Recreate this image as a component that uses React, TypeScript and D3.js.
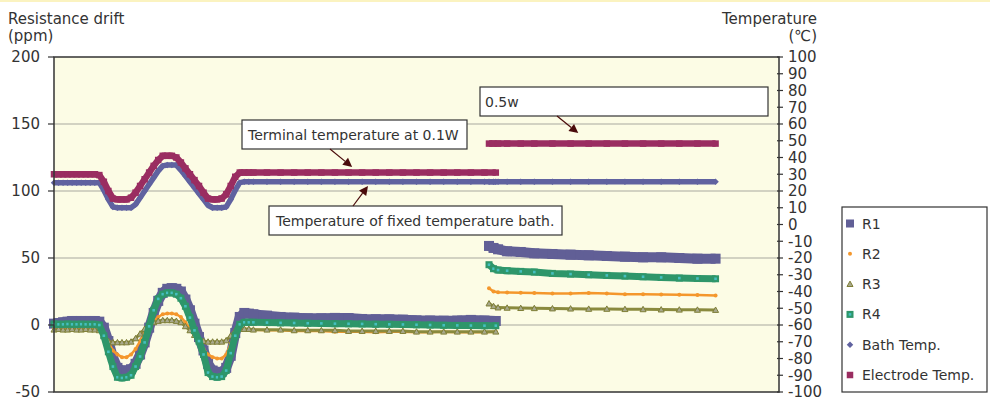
import React from "react";
import * as d3 from "d3";

// ---------- DATA ----------
const phase1Time = [0,1,2,3,4,5,6,7,8,9,10,11,12,13,14,15,16,17,18,19,20,21,22,23,24,25,26,27,28,29,30,31,32,33,34,35,36,37,38,39,40,41,42,43,44,47,50,53,56,59,62,65,68,71,74,77,80,83,86,89,92,95,97.5];
const phase2Time = [96,97,98,100,103,106,110,114,118,122,126,130,134,138,142,146];

const r1Phase1 = [1,1.5,2,2.5,3,3,3,3,3,3,2.5, -2,-12,-24,-32,-34,-34,-33,-29,-22,-13, -2,9,18,24,27,27.5,27,25,19,11, 1,-9,-19,-29,-34,-35,-35,-32,-23,-6, 6,9,8.5,8, 7,6,5.5,5,5,5.3,5.2,4.5,4.3,4.2,4,3.5,3.3,3.2,3.3,3.8,3.3, 3];
const r2Phase1 = [-3,-2.5,-3,-3,-2.5,-3,-3,-3.5,-3,-3,-3.5, -6,-13,-19,-22,-24,-24,-22,-18,-12,-6, -1,3,6,8,8.5,8.5,8,6,2,-3, -8,-13,-18,-22,-24,-25,-25,-22,-14,-6, -3,-3,-3.5,-3.5, -4,-4,-4.5,-4.5,-4.5,-5,-5,-5,-5.5,-5,-5,-5.5,-5.5,-5,-5.5,-5.5,-5.5, -5];
const r3Phase1 = [-3.5,-3,-3.5,-3.5,-3,-3.5,-3.5,-3,-3.5,-3.5,-4, -8,-12,-13,-13,-13,-13,-12.5,-10,-6.5,-3, 0,2,3,3.5,3.5,3.5,3,2,-1,-4, -7.5,-10.5,-12,-12.5,-12.5,-12.5,-12.5,-11.5,-8,-4, -3,-3,-3,-3.5, -3.5,-3.5,-4,-4,-4,-4,-4.5,-4.5,-4.5,-4.5,-4.5,-5,-5,-5,-5,-5,-5, -5];
const r4Phase1 = [0.7,0.5,0.5,0.7,0.5,0.5,0.6,0.5,0.5,0.5,0, -8,-20,-31,-39,-39.5,-39,-37.5,-31,-23.5,-13, -1,11,19.5,23,24,24,23,20,14,5.5, -4,-12,-22,-35.5,-38.5,-39,-38.5,-34,-21,-8, 0.5,2,2,2, 1.8,1.6,1.5,1.3,1.2,1,0.9,0.8,0.6,0.5,0.4,0.2,0,-0.2,-0.3,-0.4,-0.5, -0.5];
const bathPhase1 = [25,25,25,25,25,25,25,25,25,25,25, 20.5,15,10.5,10,10,10,10,12,16,20, 24,28,32,35,35.5,35.5,35.5,32.5,29,25.5, 22,18.5,15,11.5,10,10,10,10.5,15,20.5, 25,25.5,25.5,25.5, 25.5,25.5,25.5,25.5,25.5,25.5,25.5,25.5,25.5,25.5,25.5,25.5,25.5,25.5,25.5,25.5,25.5, 25.5];
const electrodePhase1 = [30,30,30,30,30,30,30,30,30,30,29.5, 25.5,20,15.5,15,15,15,16,19,23,27, 31,35,38.5,41,41,41,40,37,33.5,30, 26.5,23,19,15.5,15,15,15.5,18,23,28.5, 31,31,31,31, 31,31,31,31,31,31,31,31,31,31,31,31,31,31,31,31,31, 31];

const r1Phase2 = [59,57.5,56.5,55,54.5,53.5,53,52.5,52,51.5,51,50.5,50.5,50,49.5,49.5];
const r2Phase2 = [27.5,25,24.5,24.3,24,23.8,23.5,23.5,23.8,23.5,23,23,22.8,22.5,22.3,22];
const r3Phase2 = [16,14,13,12.8,12.6,12.5,12.3,12.2,12,12,11.8,11.7,11.5,11.4,11.3,11.2];
const r4Phase2 = [45,42,41,40.5,40,39.5,38.5,38,37.5,37,36.5,36,35.5,35,34.7,34.5];
const bathPhase2 = [25.5,25.5,25.5,25.5,25.5,25.5,25.5,25.5,25.5,25.5,25.5,25.5,25.5,25.5,25.5,25.5];
const electrodePhase2 = [48.3,48.3,48.3,48.3,48.3,48.3,48.3,48.3,48.3,48.3,48.3,48.3,48.3,48.3,48.3,48.3];

const seriesNames = ["R1", "R2", "R3", "R4", "Bath Temp.", "Electrode Temp."];
const leftTicks = [200, 150, 100, 50, 0, -50];
const rightTicks = [100, 90, 80, 70, 60, 50, 40, 30, 20, 10, 0, -10, -20, -30, -40, -50, -60, -70, -80, -90, -100];
const gridValues = [150, 100, 50, 0];

const annotations = [
  { text: "Terminal temperature at 0.1W", tipTime: 65.8, tipTemp: 34.3 },
  { text: "Temperature of fixed temperature bath.", tipTime: 69.3, tipTemp: 23 },
  { text: "0.5w", tipTime: 115.7, tipTemp: 54.6 },
];

// ---------- LAYOUT ----------
const W = 990, H = 404;
const PL = 54, PR = 779, PT = 57, PB = 392;
const FONT = "'DejaVu Sans', 'Noto Sans CJK JP', sans-serif";
const TXT = "#333";

const x = d3.scaleLinear().domain([0, 160]).range([PL, PR]);
const yL = d3.scaleLinear().domain([-50, 200]).range([PB, PT]);
const yR = d3.scaleLinear().domain([-100, 100]).range([PB, PT]);

type Style = {
  color: string; lw: number; marker: string; size: number;
  fill?: string; stroke?: string; inner?: string; axis: "L" | "R";
};
const styles: Style[] = [
  { color: "#615F96", lw: 10, marker: "square", size: 10, axis: "L" },
  { color: "#F4972C", lw: 2.5, marker: "circle", size: 4, axis: "L" },
  { color: "#8A8A3E", lw: 3, marker: "triangle", size: 6, fill: "#A8A88C", stroke: "#7E7E36", axis: "L" },
  { color: "#2E966A", lw: 7, marker: "square", size: 7, inner: "#45BFC0", axis: "L" },
  { color: "#6062A0", lw: 5.5, marker: "diamond", size: 6.5, axis: "R" },
  { color: "#9A2D61", lw: 6.5, marker: "square", size: 6.5, axis: "R" },
];
const phase1Values = [r1Phase1, r2Phase1, r3Phase1, r4Phase1, bathPhase1, electrodePhase1];
const phase2Values = [r1Phase2, r2Phase2, r3Phase2, r4Phase2, bathPhase2, electrodePhase2];

function Marker({ s, cx, cy, legend }: { s: Style; cx: number; cy: number; legend?: boolean }) {
  const sz = legend ? Math.min(s.size, 8) : s.size;
  const h = sz / 2;
  if (s.marker === "square") {
    return (
      <g>
        <rect x={cx - h} y={cy - h} width={sz} height={sz} fill={s.color} />
        {s.inner && <rect x={cx - 1.3} y={cy - 1.3} width={2.6} height={2.6} fill={s.inner} />}
      </g>
    );
  }
  if (s.marker === "circle") return <circle cx={cx} cy={cy} r={h} fill={s.color} />;
  if (s.marker === "triangle")
    return <path d={`M${cx},${cy - h}L${cx + h},${cy + h * 0.8}L${cx - h},${cy + h * 0.8}Z`} fill={s.fill} stroke={s.stroke} strokeWidth={1} />;
  return <path d={`M${cx},${cy - h}L${cx + h},${cy}L${cx},${cy + h}L${cx - h},${cy}Z`} fill={s.color} />;
}

function Series({ i }: { i: number }) {
  const s = styles[i];
  const y = s.axis === "L" ? yL : yR;
  const parts = [
    phase1Time.map((t, k) => [t, phase1Values[i][k]] as [number, number]),
    phase2Time.map((t, k) => [t, phase2Values[i][k]] as [number, number]),
  ];
  const line = d3.line<[number, number]>().x((d) => x(d[0])).y((d) => y(d[1]));
  return (
    <g>
      {parts.map((pts, pi) => (
        <g key={pi}>
          <path d={line(pts) || ""} fill="none" stroke={s.color} strokeWidth={s.lw} strokeLinejoin="round" />
          {pts.map((d, k) => (
            <Marker key={k} s={s} cx={x(d[0])} cy={y(d[1])} />
          ))}
        </g>
      ))}
    </g>
  );
}

function Arrow({ x1, y1, x2, y2 }: { x1: number; y1: number; x2: number; y2: number }) {
  const ang = Math.atan2(y2 - y1, x2 - x1);
  const L = 9, Wd = 4.5;
  const bx = x2 - L * Math.cos(ang), by = y2 - L * Math.sin(ang);
  const px = -Math.sin(ang) * Wd, py = Math.cos(ang) * Wd;
  return (
    <g>
      <line x1={x1} y1={y1} x2={bx} y2={by} stroke="#4A0B0B" strokeWidth={1.2} />
      <path d={`M${x2},${y2}L${bx + px},${by + py}L${bx - px},${by - py}Z`} fill="#4A0B0B" />
    </g>
  );
}

const boxes = [
  { x: 242, y: 120, w: 225, h: 29, tx: 248, ty: 140, ax: 330, ay: 149 },
  { x: 269, y: 206, w: 293, h: 29, tx: 276, ty: 226, ax: 353, ay: 206 },
  { x: 480, y: 87, w: 288, h: 29, tx: 485, ty: 107, ax: 557, ay: 116 },
];

export default function App() {
  return (
    <div style={{ position: "absolute", left: 0, top: 0 }}>
      <svg width={W} height={H} style={{ display: "block", fontFamily: FONT }}>
        <rect x={0} y={0} width={W} height={H} fill="#fff" />
        <rect x={0} y={0} width={W} height={2} fill="#FBF3C0" />
        <rect x={PL} y={PT} width={PR - PL} height={PB - PT} fill="#FCFCE5" />
        {gridValues.map((g) => (
          <line key={g} x1={PL} x2={PR} y1={yL(g)} y2={yL(g)} stroke="#A8A8A0" strokeWidth={1.2} />
        ))}

        {/* series */}
        {styles.map((_, i) => (
          <Series key={i} i={i} />
        ))}

        {/* plot border / axes */}
        <rect x={PL} y={PT} width={PR - PL} height={PB - PT} fill="none" stroke="#333" strokeWidth={1.5} />

        {/* left axis */}
        {leftTicks.map((t) => (
          <g key={t}>
            <line x1={PL - 6} x2={PL} y1={yL(t)} y2={yL(t)} stroke="#333" strokeWidth={1.2} />
            <text x={40} y={yL(t)} dy="0.36em" textAnchor="end" fontSize={15} fill={TXT}>{t}</text>
          </g>
        ))}
        {/* right axis */}
        {rightTicks.map((t) => (
          <g key={t}>
            <line x1={PR - 2} x2={PR + 4} y1={yR(t)} y2={yR(t)} stroke="#333" strokeWidth={1.2} />
            <text x={788} y={yR(t)} dy="0.36em" textAnchor="start" fontSize={15} fill={TXT}>{t}</text>
          </g>
        ))}

        <text x={8} y={24} fontSize={15} fill={TXT}>Resistance drift</text>
        <text x={8} y={41} fontSize={15} fill={TXT}>(ppm)</text>
        <text x={817} y={24} fontSize={15} fill={TXT} textAnchor="end">Temperature</text>
        <text x={817} y={41} fontSize={15} fill={TXT} textAnchor="end">(℃)</text>

        {/* annotations */}
        {annotations.map((a, i) => {
          const b = boxes[i];
          return (
            <g key={i}>
              <rect x={b.x} y={b.y} width={b.w} height={b.h} fill="#fff" stroke="#333" strokeWidth={1.2} />
              <text x={b.tx} y={b.ty} fontSize={14} fill={TXT}>{a.text}</text>
              <Arrow x1={b.ax} y1={b.ay} x2={x(a.tipTime)} y2={yR(a.tipTemp)} />
            </g>
          );
        })}

        {/* legend */}
        <rect x={842} y={207} width={145} height={185} fill="#fff" stroke="#333" strokeWidth={1.2} />
        {seriesNames.map((n, i) => {
          const cy = 223.5 + i * 30.3;
          return (
            <g key={n}>
              <Marker s={styles[i]} cx={850} cy={cy} legend />
              <text x={862} y={cy} dy="0.36em" fontSize={14} fill={TXT}>{n}</text>
            </g>
          );
        })}
      </svg>
    </div>
  );
}
